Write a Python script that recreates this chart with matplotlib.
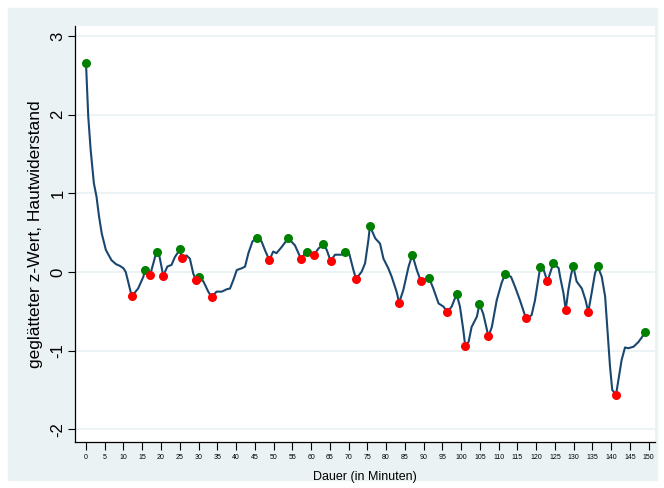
import matplotlib.pyplot as plt
from matplotlib.patches import Rectangle

# smoothed curve (minutes, z-value)
minutes = [0, 0.6, 1.25, 2.1, 2.8, 3.5, 4.2, 5.3, 6.8, 8.0, 9.1, 10.0, 10.6,
           12.2, 13.9, 15.3, 15.7, 17.1, 18.8, 19.5, 20.6, 21.7, 22.8, 23.7,
           25.1, 25.5, 26.8, 27.7, 28.6, 29.3, 30.0, 31.3, 32.6, 33.5, 34.8,
           36.2, 37.5, 38.4, 39.3, 40.2, 41.5, 42.4, 43.3, 44.4, 45.5, 46.8,
           47.7, 48.9, 49.9, 50.8, 52.2, 53.9, 55.7, 57.3, 58.8, 60.8, 62.0,
           63.3, 64.2, 65.2, 66.4, 68.2, 69.1, 70.2, 71.3, 72.0, 73.5, 74.4,
           75.3, 75.7, 77.1, 78.4, 79.3, 80.6, 81.5, 82.8, 83.5, 84.6, 86.0,
           87.0, 88.2, 89.3, 90.4, 91.5, 92.6, 94.0, 95.3, 96.3, 97.5, 98.8,
           99.7, 100.6, 101.1, 102.0, 102.8, 104.2, 104.9, 105.9, 107.3, 108.2,
           109.5, 110.8, 111.7, 113.3, 114.4, 115.7, 117.3, 118.8, 119.7, 121.1,
           122.0, 123.0, 124.6, 126.0, 126.4, 127.3, 127.9, 128.6, 129.3, 129.9,
           130.8, 132.2, 133.2, 133.9, 134.8, 135.7, 136.4, 137.5, 138.4, 139.1,
           139.7, 140.3, 141.3, 142.1, 142.8, 143.7, 144.6, 146.0, 147.3, 148.2,
           149.1]
zvalue = [2.66, 1.98, 1.55, 1.13, 0.96, 0.70, 0.49, 0.28, 0.15, 0.10, 0.076, 0.047, 0.0,
          -0.31, -0.21, -0.06, 0.025, -0.04, 0.26, 0.22, -0.047, 0.07, 0.09, 0.19,
          0.29, 0.18, 0.21, 0.17, -0.02, -0.10, -0.06, -0.12, -0.25, -0.32, -0.25,
          -0.25, -0.22, -0.21, -0.10, 0.025, 0.047, 0.068, 0.24, 0.39, 0.43, 0.39,
          0.28, 0.15, 0.26, 0.24, 0.32, 0.43, 0.34, 0.17, 0.26, 0.22, 0.30,
          0.35, 0.28, 0.14, 0.22, 0.22, 0.25, 0.23, 0.025, -0.09, 0.005, 0.11,
          0.41, 0.585, 0.43, 0.36, 0.17, 0.047, -0.06, -0.25, -0.39, -0.23, 0.068,
          0.22, 0.025, -0.12, -0.09, -0.08, -0.21, -0.40, -0.44, -0.51, -0.44, -0.28,
          -0.44, -0.74, -0.94, -0.89, -0.70, -0.57, -0.41, -0.53, -0.82, -0.70,
          -0.36, -0.14, -0.03, -0.06, -0.19, -0.36, -0.59, -0.55, -0.36, 0.06,
          0.03, -0.12, 0.11, 0.05, -0.06, -0.27, -0.48, -0.23, -0.04, 0.076,
          -0.12, -0.21, -0.36, -0.51, -0.27, -0.017, 0.076, -0.06, -0.31, -0.78,
          -1.20, -1.50, -1.565, -1.33, -1.12, -0.96, -0.97, -0.95, -0.89, -0.83,
          -0.76]

# local maxima (green) and minima (red)
peak_t = [0, 15.7, 18.8, 25.1, 30.0, 45.5, 53.9, 58.8, 63.3, 69.1, 75.7,
          87.0, 91.5, 98.8, 104.9, 111.7, 121.1, 124.6, 129.9, 136.4, 149.1]
peak_v = [2.66, 0.025, 0.26, 0.29, -0.06, 0.43, 0.43, 0.26, 0.35, 0.25, 0.585,
          0.22, -0.08, -0.28, -0.41, -0.03, 0.06, 0.11, 0.076, 0.076, -0.76]
trough_t = [12.2, 17.1, 20.6, 25.5, 29.3, 33.5, 48.9, 57.3, 60.8, 65.2, 72.0,
            83.5, 89.3, 96.3, 101.1, 107.3, 117.3, 123.0, 127.9, 133.9, 141.3]
trough_v = [-0.31, -0.04, -0.047, 0.18, -0.10, -0.32, 0.15, 0.17, 0.22, 0.14, -0.09,
            -0.39, -0.12, -0.51, -0.94, -0.82, -0.59, -0.12, -0.48, -0.51, -1.565]

xticks = list(range(0, 155, 5))
yticks = [-2, -1, 0, 1, 2, 3]

plt.rcParams['font.family'] = ['Liberation Sans', 'DejaVu Sans']

fig = plt.figure(figsize=(6.64, 4.88), dpi=100, facecolor='white')
# stata-like outer region
fig.patches.append(Rectangle((8 / 664, 8 / 488), 649 / 664, 472 / 488,
                             transform=fig.transFigure, color='#eaf2f3', zorder=-5))
ax = fig.add_axes([75 / 664, 1 - 442 / 488, 580 / 664, 416 / 488])
ax.set_zorder(2)
ax.set_facecolor('white')

ax.plot(minutes, zvalue, color='#1a476f', lw=1.5, zorder=3)
ax.plot(peak_t, peak_v, 'o', color='#008000', ms=6.5, mec='none', zorder=4)
ax.plot(trough_t, trough_v, 'o', color='#ff0000', ms=6.5, mec='none', zorder=4)

ax.set_xlim(-2.93, 151.7)
ax.set_ylim(-2.163, 3.13)
ax.set_xticks(xticks)
ax.set_yticks(yticks)
ax.set_yticklabels([str(y) for y in yticks], rotation=90, va='center', fontsize=12)
ax.tick_params(axis='x', labelsize=5, length=5.5, width=0.8, pad=3)
ax.tick_params(axis='y', length=5, width=0.8, pad=2)
ax.grid(axis='y', color='#eaf2f3', lw=1.3)
ax.set_axisbelow(True)
for s in ['top', 'right']:
    ax.spines[s].set_visible(False)
ax.spines['left'].set_linewidth(0.9)
ax.spines['bottom'].set_linewidth(0.9)

ax.set_xlabel("Dauer (in Minuten)", fontsize=9, labelpad=7)
ax.set_ylabel("geglätteter z-Wert, Hautwiderstand", fontsize=12.5, labelpad=5)

plt.savefig('out.png', dpi=100, facecolor=fig.get_facecolor())
